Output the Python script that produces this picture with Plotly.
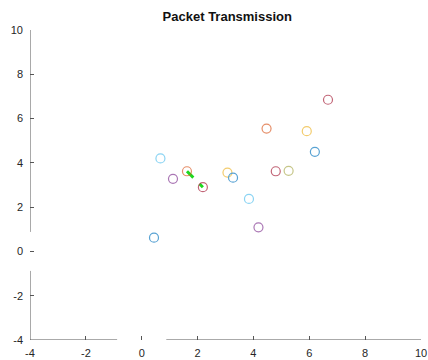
import plotly.graph_objects as go

# Node positions and their colours (MATLAB default colour order)
node_x = [6.67, 4.47, 5.91, 6.20, 4.80, 5.26, 3.07, 3.27, 3.84, 4.18, 0.67, 1.12, 1.62, 2.19, 0.44]
node_y = [6.85, 5.55, 5.43, 4.50, 3.62, 3.64, 3.56, 3.33, 2.37, 1.09, 4.20, 3.28, 3.62, 2.90, 0.62]
node_colors = ["#A2142F", "#D95319", "#EDB120", "#0072BD", "#A2142F", "#A8A84A",
               "#EDB120", "#0072BD", "#4DBEEE", "#7E2F8E", "#4DBEEE", "#7E2F8E",
               "#D95319", "#A2142F", "#0072BD"]

# Active transmission link (source node -> destination node)
link_src = 12
link_dst = 13

x_ticks = [-4, -2, 0, 2, 4, 6, 8, 10]
y_ticks = [-4, -2, 0, 2, 4, 6, 8, 10]
x_tick_text = ["-4", "-2", "0", "2", "4", "6", "8", "10"]
y_tick_text = ["-4", "-2", "0", "2", "4", "6", "8", "10"]
x_range = [-4, 10]
y_range = [-4, 10]
axis_gap = [-0.88, 0.88]

axis_color = "#555555"
text_color = "#262626"

fig = go.Figure()

fig.add_trace(go.Scatter(
    x=[node_x[link_src], node_x[link_dst]],
    y=[node_y[link_src], node_y[link_dst]],
    mode="lines",
    line=dict(color="#1fd81f", width=3, dash="dash"),
    hoverinfo="skip",
))

fig.add_trace(go.Scatter(
    x=node_x, y=node_y,
    mode="markers",
    marker=dict(symbol="circle-open", size=9, color=node_colors,
                line=dict(width=1.2, color=node_colors)),
    opacity=0.65,
    hoverinfo="skip",
))

# Axis lines drawn as segments so they can break around the origin ticks
shapes = [
    dict(type="line", xref="x", yref="y", x0=x_range[0], x1=axis_gap[0], y0=y_range[0], y1=y_range[0]),
    dict(type="line", xref="x", yref="y", x0=axis_gap[1], x1=x_range[1], y0=y_range[0], y1=y_range[0]),
    dict(type="line", xref="x", yref="y", x0=x_range[0], x1=x_range[0], y0=y_range[0], y1=axis_gap[0]),
    dict(type="line", xref="x", yref="y", x0=x_range[0], x1=x_range[0], y0=axis_gap[1], y1=y_range[1]),
]
for s in shapes:
    s["line"] = dict(color=axis_color, width=1)
    s["layer"] = "above"

fig.update_layout(
    width=428, height=360,
    margin=dict(l=30, r=1, t=30, b=19),
    paper_bgcolor="white", plot_bgcolor="white",
    showlegend=False,
    shapes=shapes,
    font=dict(family="Liberation Sans, Arial, sans-serif", size=11, color=text_color),
    title=dict(text="<b>Packet Transmission</b>", x=0.531, xanchor="center",
               y=0.955, yanchor="middle",
               font=dict(family="Liberation Sans, Arial, sans-serif", size=13, color="#111111")),
)

fig.update_xaxes(range=x_range, tickvals=x_ticks, ticktext=x_tick_text,
                 showgrid=False, zeroline=False,
                 showline=False, ticks="inside", ticklen=4, tickcolor=axis_color,
                 ticklabelstandoff=5, ticklabeloverflow="allow",
                 tickfont=dict(size=11, color=text_color), fixedrange=True)
fig.update_yaxes(range=y_range, tickvals=y_ticks, ticktext=y_tick_text,
                 showgrid=False, zeroline=False,
                 showline=False, ticks="inside", ticklen=4, tickcolor=axis_color,
                 ticklabelstandoff=6, ticklabeloverflow="allow",
                 tickfont=dict(size=11, color=text_color), fixedrange=True)

fig.write_html("out.html")
